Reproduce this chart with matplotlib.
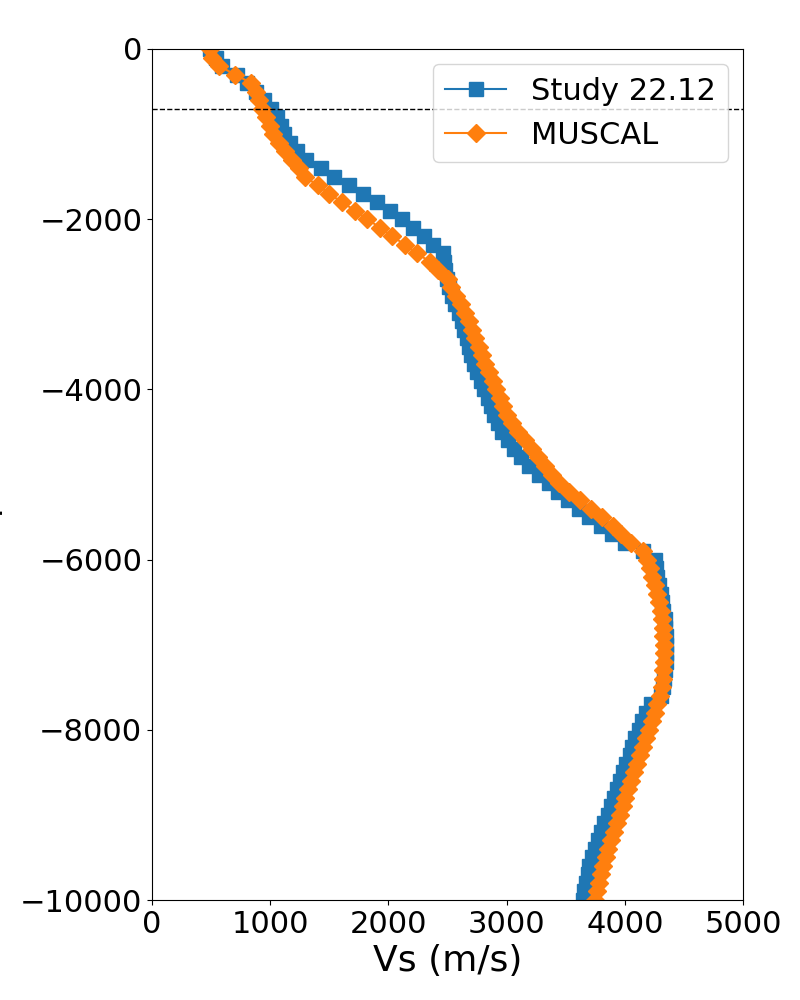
import numpy as np
import matplotlib
matplotlib.use("Agg")
import matplotlib.pyplot as plt

# depth grid (m), every 100 m down to -10000
depth = np.arange(0, -10001, -100)

vs_study = [
    490, 540, 590, 715, 805, 880, 945, 1005, 1055, 1090,
    1120, 1165, 1230, 1300, 1430, 1540, 1665, 1785, 1900, 2010,
    2115, 2205, 2300, 2380, 2465, 2470, 2480, 2495, 2515, 2540,
    2565, 2595, 2620, 2640, 2660, 2680, 2700, 2725, 2750, 2780,
    2810, 2840, 2870, 2895, 2925, 2960, 3010, 3060, 3120, 3190,
    3270, 3360, 3430, 3520, 3610, 3700, 3800, 3890, 4000, 4150,
    4250, 4260, 4275, 4290, 4305, 4315, 4325, 4335, 4340, 4345,
    4350, 4350, 4345, 4340, 4330, 4320, 4305, 4220, 4175, 4145,
    4115, 4085, 4060, 4040, 4010, 3985, 3960, 3935, 3910, 3885,
    3855, 3825, 3800, 3770, 3745, 3720, 3700, 3685, 3670, 3655,
    3645,
]

vs_muscal = [
    490, 510, 570, 700, 840, 880, 905, 930, 960, 995,
    1020, 1075, 1125, 1180, 1240, 1290, 1400, 1500, 1605, 1720,
    1820, 1930, 2030, 2140, 2240, 2350, 2420, 2500, 2530, 2570,
    2610, 2650, 2680, 2705, 2735, 2765, 2790, 2820, 2850, 2880,
    2910, 2940, 2970, 3005, 3045, 3095, 3155, 3210, 3265, 3320,
    3380, 3445, 3530, 3620, 3715, 3810, 3900, 3970, 4050, 4150,
    4190, 4210, 4230, 4250, 4270, 4290, 4305, 4315, 4320, 4325,
    4330, 4330, 4330, 4325, 4320, 4310, 4295, 4275, 4250, 4225,
    4200, 4175, 4150, 4125, 4100, 4075, 4050, 4025, 4000, 3980,
    3955, 3930, 3905, 3880, 3860, 3840, 3815, 3795, 3780, 3765,
    3750,
]

ref_depth = -700

fig = plt.figure(figsize=(8, 10), dpi=100)
ax = fig.add_axes([0.19, 0.10, 0.739, 0.851])

ax.plot(vs_study, depth, '-s', color='tab:blue', markersize=10, label='Study 22.12')
ax.plot(vs_muscal, depth, '-D', color='tab:orange', markersize=9, label='MUSCAL')
ax.axhline(ref_depth, color='k', linestyle='--', linewidth=1)

ax.set_xlim(0, 5000)
ax.set_ylim(-10000, 0)
ax.set_xticks([0, 1000, 2000, 3000, 4000, 5000])
ax.set_yticks([0, -2000, -4000, -6000, -8000, -10000])
ax.tick_params(labelsize=22)
ax.set_xlabel('Vs (m/s)', fontsize=26)
ax.set_ylabel('Depth (m)', fontsize=26, labelpad=12)
ax.legend(loc='upper right', fontsize=22)

fig.savefig('out.png', dpi=100)
